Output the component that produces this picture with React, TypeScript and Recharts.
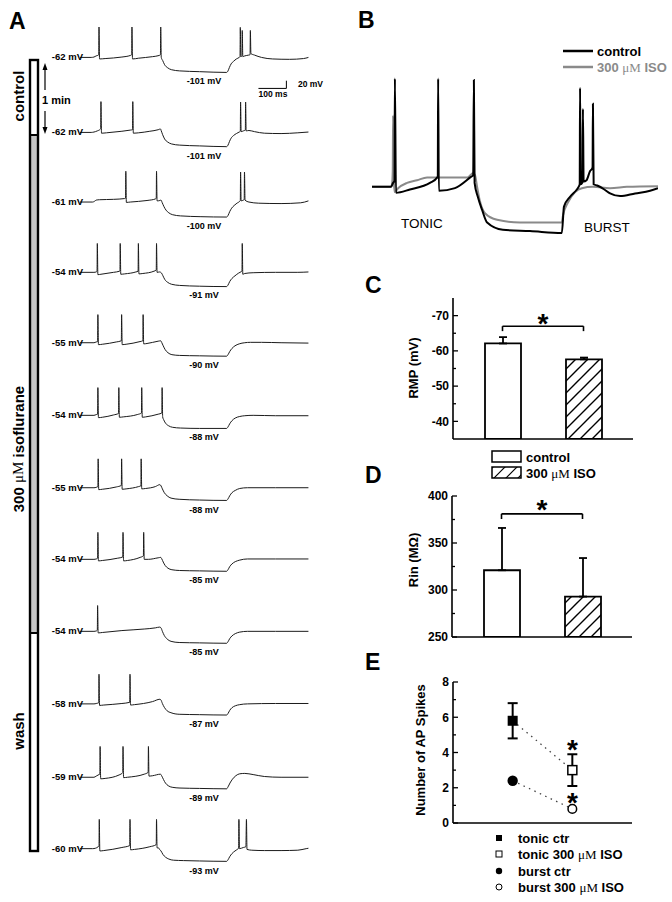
import React from 'react';
import {
  LineChart,
  Line,
  XAxis,
  YAxis,
  ReferenceLine,
  BarChart,
  Bar,
  ErrorBar,
  Cell,
  ComposedChart,
} from 'recharts';

type Pt = [number, number];

const FONT = "Arial, 'Liberation Sans', Helvetica, sans-serif";
const SERIF = "'Liberation Serif', 'Times New Roman', serif";

// ---------------- Panel A: sweeps, [time (ms), membrane potential (mV)] ----------------
const sweep1: Pt[] = [[0,-62],[40,-62],[50,-61],[58,-58],[66,-56],[67,-54],[68,17],[70,-66],[90,-65],[150,-61],[180,-57],[185,-55],[186,17],[188,-66],[210,-64],[260,-60],[283,-57],[288,-55],[289,17],[291,-62],[296,-70],[303,-81],[314,-89],[328,-94],[357,-97],[428,-99],[525,-101],[530,-97],[535,-88],[541,-79],[550,-72],[560,-66],[570,-62],[573,-60],[574,16],[576,-60],[580,-58],[581,8],[583,-60],[590,-58],[604,-56],[609,-55],[610,8],[612,-52],[625,-56],[650,-62],[690,-66],[750,-67],[800,-65],[818,-62]];
const sweep2: Pt[] = [[0,-62],[40,-62],[50,-61],[62,-58],[72,-54],[74,-52],[75,18],[77,-64],[95,-63],[150,-59],[180,-56],[188,-55],[189,18],[191,-64],[210,-63],[250,-59],[280,-55],[288,-53],[291,-58],[296,-68],[303,-79],[314,-87],[328,-92],[357,-95],[428,-97],[525,-99],[530,-95],[535,-86],[541,-77],[550,-70],[560,-65],[570,-61],[574,-59],[575,17],[577,-60],[585,-58],[592,-56],[593,17],[595,-58],[605,-57],[625,-60],[660,-64],[720,-65],[780,-63],[818,-61]];
const sweep3: Pt[] = [[0,-61],[45,-61],[52,-59],[58,-56],[70,-55],[120,-54],[160,-52],[163,-51],[164,19],[166,-62],[180,-61],[240,-57],[270,-53],[273,-51],[274,19],[276,-58],[286,-57],[290,-56],[294,-62],[300,-72],[308,-82],[318,-89],[332,-94],[360,-97],[430,-99],[525,-100],[530,-96],[536,-86],[543,-77],[552,-70],[562,-64],[572,-59],[574,-57],[575,17],[577,-58],[585,-56],[588,-55],[589,17],[591,-56],[605,-61],[640,-64],[720,-65],[790,-63],[818,-58]];
const sweep4: Pt[] = [[0,-54],[50,-54],[58,-53],[61,-51],[62,21],[64,-60],[75,-59],[120,-54],[142,-51],[143,-50],[144,21],[146,-59],[160,-58],[200,-53],[208,-51],[209,21],[211,-58],[225,-57],[265,-51],[273,-48],[274,21],[276,-54],[285,-53],[292,-56],[297,-63],[304,-73],[314,-80],[328,-85],[357,-88],[428,-90],[525,-91],[530,-87],[536,-78],[544,-70],[555,-63],[568,-56],[578,-52],[580,-51],[581,21],[583,-59],[590,-57],[620,-55],[700,-54],[780,-54],[818,-53]];
const sweep5: Pt[] = [[0,-55],[50,-55],[58,-53],[63,-52],[64,18],[66,-60],[80,-59],[130,-53],[148,-50],[149,18],[151,-60],[165,-59],[215,-52],[225,-50],[226,18],[228,-58],[240,-57],[280,-51],[289,-50],[293,-55],[298,-63],[305,-73],[315,-81],[329,-86],[357,-88],[428,-89],[525,-90],[530,-86],[536,-78],[544,-70],[555,-63],[570,-58],[590,-55],[610,-54],[650,-54],[720,-55],[818,-56]];
const sweep6: Pt[] = [[0,-54],[50,-54],[58,-52],[63,-51],[64,18],[66,-60],[80,-59],[120,-53],[138,-49],[139,18],[141,-59],[155,-58],[205,-52],[220,-48],[221,18],[223,-59],[235,-58],[280,-51],[293,-48],[294,18],[296,-58],[300,-66],[307,-75],[317,-81],[331,-85],[360,-87],[428,-88],[525,-88],[530,-84],[536,-76],[544,-68],[556,-61],[572,-57],[590,-55],[620,-54],[700,-55],[818,-55]];
const sweep7: Pt[] = [[0,-55],[50,-55],[58,-54],[64,-52],[65,20],[67,-60],[80,-59],[130,-53],[148,-49],[149,20],[151,-59],[165,-58],[210,-52],[218,-50],[219,20],[221,-58],[235,-57],[270,-52],[286,-47],[290,-50],[295,-58],[302,-68],[312,-76],[326,-82],[355,-85],[428,-87],[525,-88],[530,-84],[536,-76],[544,-68],[556,-62],[572,-57],[600,-55],[700,-55],[818,-55]];
const sweep8: Pt[] = [[0,-54],[50,-54],[58,-53],[63,-51],[64,16],[66,-58],[80,-57],[135,-51],[153,-48],[154,16],[156,-58],[170,-57],[215,-49],[227,-45],[228,16],[230,-54],[245,-54],[280,-50],[289,-49],[293,-53],[298,-61],[305,-70],[315,-77],[329,-81],[357,-83],[428,-84],[525,-85],[530,-81],[536,-73],[544,-66],[556,-60],[572,-56],[600,-53],[700,-53],[818,-53]];
const sweep9: Pt[] = [[0,-54],[50,-54],[58,-53],[62,-51],[63,13],[65,-58],[80,-57],[150,-52],[230,-48],[270,-45],[285,-43],[290,-45],[295,-54],[302,-65],[312,-74],[326,-80],[355,-83],[428,-84],[525,-85],[530,-81],[536,-73],[544,-66],[556,-60],[572,-56],[600,-54],[700,-54],[818,-54]];
const sweep10: Pt[] = [[0,-58],[50,-58],[58,-57],[67,-55],[68,19],[70,-62],[85,-61],[150,-57],[178,-54],[179,19],[181,-61],[195,-60],[260,-52],[286,-46],[290,-48],[295,-57],[302,-67],[312,-76],[326,-81],[355,-85],[428,-86],[525,-87],[530,-83],[536,-75],[544,-68],[556,-63],[572,-60],[600,-58],[700,-57],[818,-57]];
const sweep11: Pt[] = [[0,-59],[50,-59],[58,-56],[68,-52],[71,-51],[72,21],[74,-63],[90,-62],[140,-53],[153,-47],[154,21],[156,-60],[170,-59],[230,-51],[244,-46],[245,21],[247,-56],[260,-55],[288,-51],[293,-56],[299,-65],[306,-74],[316,-81],[330,-85],[358,-87],[428,-88],[525,-89],[530,-84],[537,-74],[546,-64],[558,-55],[572,-50],[590,-49],[620,-52],[660,-57],[720,-59],[818,-59]];
const sweep12: Pt[] = [[0,-60],[45,-60],[55,-59],[65,-55],[68,-53],[69,16],[71,-66],[85,-65],[150,-57],[178,-52],[179,16],[181,-63],[195,-62],[250,-55],[272,-50],[273,-48],[274,16],[276,-58],[281,-58],[285,-62],[290,-66],[297,-75],[306,-82],[318,-87],[335,-90],[370,-91],[428,-92],[525,-93],[530,-89],[536,-81],[544,-73],[555,-66],[565,-61],[568,-59],[569,16],[571,-60],[585,-57],[594,-55],[596,16],[598,-62],[615,-64],[660,-65],[720,-65],[780,-64],[810,-60],[818,-59]];

const sweeps: Pt[][] = [sweep1, sweep2, sweep3, sweep4, sweep5, sweep6, sweep7, sweep8, sweep9, sweep10, sweep11, sweep12];
const hyperValues = [-101, -101, -100, -91, -90, -88, -88, -85, -85, -87, -89, -93];

// ---------------- Panel B: overlay, [time (ms), mV] ----------------
const bControl: Pt[] = [[0,-62],[53,-62],[59,-59],[63,-57.5],[64,20],[67,-66.5],[106,-64],[162,-59],[182,-55],[184,-54],[185,20],[187,-65],[232,-63],[274,-55],[283,-53],[285,19],[287,-59],[296,-69.5],[308,-79.5],[322,-89],[366,-94.5],[442,-95.5],[531,-97],[537,-77],[554,-69.5],[573,-64],[578,-62],[581,-60],[582,13],[584,-60],[588,-59],[589,-58],[590,-3],[592,-58],[600,-57],[610,-50],[616,-48],[617,-47],[618,1],[620,-60],[630,-61],[650,-64],[666,-67],[694,-69],[736,-67],[778,-65],[800,-63]];
const bIso: Pt[] = [[0,-62],[53,-62],[56,-60],[58,-50],[59,-8],[61,-55],[63,-66],[73,-63],[98,-59],[126,-57],[154,-55],[266,-55],[283,-51.5],[288,-53],[294,-62],[302,-73],[316,-82],[350,-87],[414,-89],[531,-89],[534,-84],[548,-74],[568,-66],[587,-63],[618,-62],[666,-63],[713,-62],[800,-61.5]];

// ---------------- Panels C, D: bars ----------------
const barGroups = ['control', '300 \u00B5M ISO'];
const rmpMean = [-62.1, -57.6];
const rmpSem = [1.8, 0.5];
const rinMean = [321, 293];
const rinErr = [45, 41];

// ---------------- Panel E: spike counts ----------------
const spikeGroupX = [1, 2];
const tonicMean = [5.8, 3.0];
const tonicErr = [1.0, 0.9];
const burstMean = [2.4, 0.8];

// ---------------- layout ----------------
const A_ROW_BASE_PX = [57, 132, 202, 272, 343, 415, 488, 559, 631, 704, 777, 849];
const A_PX_PER_MV = 0.385;
const A_DOMAIN: [number, number] = [-150, 30];
const A_LEFT = 80;
const A_WIDTH = 229;

const B_PX_PER_MV = 1.32;
const B_DOMAIN: [number, number] = [-105, 25];

const toRows = (d: Pt[]) => d.map(([t, v]) => ({ t, v }));

function SweepRow({ data, basePx, scaleBar }: { data: Pt[]; basePx: number; scaleBar?: boolean }) {
  const rest = data[0][1];
  const top = basePx - (A_DOMAIN[1] - rest) * A_PX_PER_MV;
  const height = (A_DOMAIN[1] - A_DOMAIN[0]) * A_PX_PER_MV;
  return (
    <div style={{ position: 'absolute', left: A_LEFT, top, width: A_WIDTH, height }}>
      <LineChart width={A_WIDTH} height={height} data={toRows(data)} margin={{ top: 0, right: 0, bottom: 0, left: 0 }}>
        <XAxis dataKey="t" type="number" domain={[0, 820]} hide allowDataOverflow />
        <YAxis type="number" domain={A_DOMAIN} hide allowDataOverflow />
        <Line type="monotone" dataKey="v" stroke="#1a1a1a" strokeWidth={1} dot={false} isAnimationActive={false} />
        {scaleBar && (
          <ReferenceLine segment={[{ x: 639, y: -142.5 }, { x: 739, y: -142.5 }]} stroke="#000" strokeWidth={1} ifOverflow="visible" />
        )}
        {scaleBar && (
          <ReferenceLine segment={[{ x: 739, y: -142.5 }, { x: 739, y: -122.5 }]} stroke="#000" strokeWidth={1} ifOverflow="visible" />
        )}
      </LineChart>
    </div>
  );
}

const makeTick = (majors: number[]) => (props: any) => {
  const { x, y, payload } = props;
  const v = payload.value;
  const major = majors.includes(v);
  return (
    <g>
      <line x1={x} x2={x + (major ? 5 : 3)} y1={y} y2={y} stroke="#000" strokeWidth={1.3} />
      {major && (
        <text x={x - 4} y={y + 4.3} textAnchor="end" fontSize={12} fontWeight="bold" fontFamily={FONT} fill="#000">
          {v}
        </text>
      )}
    </g>
  );
};

const STAR_SIZE = 28;

const bracketStar = (dyBase: number) => (props: any) => {
  const vb = props.viewBox || {};
  const x = (vb.x || 0) + (vb.width || 0) / 2;
  const y = (vb.y || 0) + dyBase;
  return (
    <text x={x} y={y} textAnchor="middle" fontSize={STAR_SIZE} fontWeight="bold" fontFamily={FONT} fill="#000">
      *
    </text>
  );
};

const pointStar = (offset: number, only: number) => (props: any) => {
  if (props.index !== only) return null;
  const x = props.x ?? props.viewBox?.x;
  const y = props.y ?? props.viewBox?.y;
  return (
    <text x={x} y={y - offset} textAnchor="middle" fontSize={STAR_SIZE} fontWeight="bold" fontFamily={FONT} fill="#000">
      *
    </text>
  );
};

const hatch = (id: string) => (
  <defs>
    <pattern id={id} patternUnits="userSpaceOnUse" width={12} height={12}>
      <path d="M0,12 L12,0 M-2,2 L2,-2 M10,14 L14,10" stroke="#000" strokeWidth={1.4} />
    </pattern>
  </defs>
);

const axisLine = { stroke: '#000', strokeWidth: 1.6 };

const tonicDot = (p: any) => {
  const { cx, cy, index } = p;
  if (index === 0) return <rect key={`td${index}`} x={cx - 5} y={cy - 5} width={10} height={10} fill="#000" />;
  return <rect key={`td${index}`} x={cx - 4.5} y={cy - 4.5} width={9} height={9} fill="#fff" stroke="#000" strokeWidth={1.5} />;
};
const burstDot = (p: any) => {
  const { cx, cy, index } = p;
  if (index === 0) return <circle key={`bd${index}`} cx={cx} cy={cy} r={5.2} fill="#000" />;
  return <circle key={`bd${index}`} cx={cx} cy={cy} r={4.3} fill="#fff" stroke="#000" strokeWidth={1.5} />;
};

function Mu() {
  return <tspan fontFamily={SERIF} fontWeight="normal">{'\u03BC'}M</tspan>;
}

export default function App() {
  const rmpRows = barGroups.map((g, i) => ({ g, v: rmpMean[i], e: [rmpSem[i], 0] }));
  const rinRows = barGroups.map((g, i) => ({ g, v: rinMean[i], e: [0, rinErr[i]] }));
  const spikeRows = spikeGroupX.map((x, i) => ({ x, tonic: tonicMean[i], tErr: tonicErr[i], burst: burstMean[i] }));

  const bTop = 187 - (B_DOMAIN[1] - bControl[0][1]) * B_PX_PER_MV;
  const bHeight = (B_DOMAIN[1] - B_DOMAIN[0]) * B_PX_PER_MV;

  const txt = { fontFamily: FONT, fontWeight: 'bold' as const, fill: '#000' };

  return (
    <div style={{ position: 'relative', width: 672, height: 902, background: '#fff', overflow: 'hidden', fontFamily: FONT }}>
      <style>{`body{margin:0;} .recharts-surface{overflow:visible;}`}</style>

      {/* Panel A sweeps */}
      {sweeps.map((s, i) => (
        <SweepRow key={i} data={s} basePx={A_ROW_BASE_PX[i]} scaleBar={i === 0} />
      ))}

      {/* Panel B */}
      <div style={{ position: 'absolute', left: 372, top: bTop }}>
        <LineChart width={286} height={bHeight} margin={{ top: 0, right: 0, bottom: 0, left: 0 }}>
          <XAxis dataKey="t" type="number" domain={[0, 800]} hide allowDataOverflow />
          <YAxis type="number" domain={B_DOMAIN} hide allowDataOverflow />
          <Line data={toRows(bIso)} type="monotone" dataKey="v" stroke="#8a8a8a" strokeWidth={2} dot={false} isAnimationActive={false} />
          <Line data={toRows(bControl)} type="monotone" dataKey="v" stroke="#000" strokeWidth={2} dot={false} isAnimationActive={false} />
        </LineChart>
      </div>

      {/* Panel C */}
      <div style={{ position: 'absolute', left: 393, top: 290 }}>
        <BarChart width={240} height={150} data={rmpRows} margin={{ top: 8, right: 0, bottom: 0, left: 0 }}>
          {hatch('hatchC')}
          <XAxis dataKey="g" type="category" tick={false} tickLine={false} height={1} axisLine={axisLine} padding={{ left: 9, right: 9 }} />
          <YAxis type="number" domain={[-75, -35]} reversed ticks={[-70, -65, -60, -55, -50, -45, -40]} interval={0} width={60} tickSize={0} tickMargin={0} tickLine={false} axisLine={axisLine} tick={makeTick([-70, -60, -50, -40])} allowDataOverflow />
          <Bar dataKey="v" barSize={36} stroke="#000" strokeWidth={1.8} isAnimationActive={false}>
            <Cell fill="#fff" />
            <Cell fill="url(#hatchC)" />
            <ErrorBar dataKey="e" width={4} strokeWidth={1.8} stroke="#000" direction="y" />
          </Bar>
          <ReferenceLine segment={[{ x: barGroups[0], y: -67 }, { x: barGroups[1], y: -67 }]} stroke="#000" strokeWidth={1.6} label={bracketStar(7)} />
          <ReferenceLine segment={[{ x: barGroups[0], y: -67 }, { x: barGroups[0], y: -65.6 }]} stroke="#000" strokeWidth={1.6} />
          <ReferenceLine segment={[{ x: barGroups[1], y: -67 }, { x: barGroups[1], y: -65.6 }]} stroke="#000" strokeWidth={1.6} />
        </BarChart>
      </div>

      {/* Panel D */}
      <div style={{ position: 'absolute', left: 392, top: 488 }}>
        <BarChart width={240} height={150} data={rinRows} margin={{ top: 8, right: 0, bottom: 0, left: 0 }}>
          {hatch('hatchD')}
          <XAxis dataKey="g" type="category" tick={false} tickLine={false} height={1} axisLine={axisLine} padding={{ left: 9, right: 9 }} />
          <YAxis type="number" domain={[250, 400]} ticks={[250, 275, 300, 325, 350, 375, 400]} interval={0} width={60} tickSize={0} tickMargin={0} tickLine={false} axisLine={axisLine} tick={makeTick([250, 300, 350, 400])} allowDataOverflow />
          <Bar dataKey="v" barSize={36} stroke="#000" strokeWidth={1.8} isAnimationActive={false}>
            <Cell fill="#fff" />
            <Cell fill="url(#hatchD)" />
            <ErrorBar dataKey="e" width={4} strokeWidth={1.8} stroke="#000" direction="y" />
          </Bar>
          <ReferenceLine segment={[{ x: barGroups[0], y: 381 }, { x: barGroups[1], y: 381 }]} stroke="#000" strokeWidth={1.6} label={bracketStar(5)} />
          <ReferenceLine segment={[{ x: barGroups[0], y: 381 }, { x: barGroups[0], y: 375.5 }]} stroke="#000" strokeWidth={1.6} />
          <ReferenceLine segment={[{ x: barGroups[1], y: 381 }, { x: barGroups[1], y: 375.5 }]} stroke="#000" strokeWidth={1.6} />
        </BarChart>
      </div>

      {/* Panel E */}
      <div style={{ position: 'absolute', left: 393, top: 674 }}>
        <ComposedChart width={239} height={150} data={spikeRows} margin={{ top: 8, right: 0, bottom: 0, left: 0 }}>
          <XAxis dataKey="x" type="number" domain={[0, 3]} tick={false} tickLine={false} height={1} axisLine={axisLine} />
          <YAxis type="number" domain={[0, 8]} ticks={[0, 1, 2, 3, 4, 5, 6, 7, 8]} interval={0} width={60} tickSize={0} tickMargin={0} tickLine={false} axisLine={axisLine} tick={makeTick([0, 2, 4, 6, 8])} allowDataOverflow />
          <Line dataKey="tonic" name="tonic-err" stroke="transparent" dot={false} isAnimationActive={false}>
            <ErrorBar dataKey="tErr" width={5} strokeWidth={2} stroke="#000" direction="y" />
          </Line>
          <Line dataKey="tonic" name="tonic" type="linear" stroke="#444" strokeWidth={1.3} strokeDasharray="1.5 4.5" dot={tonicDot} label={pointStar(11, 1)} isAnimationActive={false} />
          <Line dataKey="burst" name="burst" type="linear" stroke="#444" strokeWidth={1.3} strokeDasharray="1.5 4.5" dot={burstDot} label={pointStar(-3, 1)} isAnimationActive={false} />
        </ComposedChart>
      </div>

      {/* Annotations */}
      <svg width={672} height={902} style={{ position: 'absolute', left: 0, top: 0, pointerEvents: 'none' }}>
        <defs>
          <pattern id="hatchL" patternUnits="userSpaceOnUse" width={12} height={12}>
            <path d="M0,12 L12,0 M-2,2 L2,-2 M10,14 L14,10" stroke="#000" strokeWidth={1.2} />
          </pattern>
        </defs>

        {/* panel letters */}
        <text x={9} y={29} fontSize={23} {...txt}>A</text>
        <text x={358} y={28} fontSize={23} {...txt}>B</text>
        <text x={365} y={293} fontSize={23} {...txt}>C</text>
        <text x={365} y={483} fontSize={23} {...txt}>D</text>
        <text x={365} y={670} fontSize={23} {...txt}>E</text>

        {/* Panel A: condition bar */}
        <rect x={30} y={60} width={8} height={75} fill="#fff" />
        <rect x={30} y={135} width={8} height={498} fill="#c4c4c4" />
        <rect x={30} y={633} width={8} height={218} fill="#fff" />
        <rect x={30} y={60} width={8} height={791} fill="none" stroke="#000" strokeWidth={2.4} />
        <line x1={30} x2={38} y1={135} y2={135} stroke="#000" strokeWidth={2} />
        <line x1={30} x2={38} y1={633} y2={633} stroke="#000" strokeWidth={2} />

        <text transform="rotate(-90 18 96)" x={18} y={96} textAnchor="middle" dominantBaseline="central" fontSize={15} {...txt}>control</text>
        <text transform="rotate(-90 18 449)" x={18} y={449} textAnchor="middle" dominantBaseline="central" fontSize={15} {...txt}>300 <Mu /> isoflurane</text>
        <text transform="rotate(-90 18 731)" x={18} y={731} textAnchor="middle" dominantBaseline="central" fontSize={15} {...txt}>wash</text>

        {/* 1 min arrows */}
        <line x1={45} x2={45} y1={69} y2={90} stroke="#000" strokeWidth={1.2} />
        <path d="M42.5,70 L45,63 L47.5,70 Z" fill="#000" />
        <line x1={45} x2={45} y1={111} y2={128} stroke="#000" strokeWidth={1.2} />
        <path d="M42.5,127 L45,134 L47.5,127 Z" fill="#000" />
        <text x={42} y={104} fontSize={11} {...txt}>1 min</text>

        {/* scale bar labels */}
        <text x={273} y={97} textAnchor="middle" fontSize={8.5} {...txt}>100 ms</text>
        <text x={298} y={87} fontSize={8.5} {...txt}>20 mV</text>

        {/* sweep labels */}
        {sweeps.map((s, i) => {
          const base = A_ROW_BASE_PX[i];
          const rest = s[0][1];
          const hyper = hyperValues[i];
          return (
            <g key={`lab${i}`}>
              <text x={83} y={base + 3.3} textAnchor="end" fontSize={9.5} {...txt}>{`${rest} mV`}</text>
              <text x={204} y={base + (rest - hyper) * A_PX_PER_MV + 12} textAnchor="middle" fontSize={9} {...txt}>{`${hyper} mV`}</text>
            </g>
          );
        })}

        {/* Panel B legend and labels */}
        <line x1={563} x2={593} y1={51} y2={51} stroke="#000" strokeWidth={2.5} />
        <text x={597} y={56} fontSize={13} {...txt}>control</text>
        <line x1={563} x2={593} y1={67} y2={67} stroke="#8a8a8a" strokeWidth={2.5} />
        <text x={597} y={72} fontSize={13} fontFamily={FONT} fontWeight="bold" fill="#8a8a8a">300 <Mu /> ISO</text>
        <text x={422} y={228} textAnchor="middle" fontSize={13.5} fontFamily={FONT} fill="#000">TONIC</text>
        <text x={607} y={232} textAnchor="middle" fontSize={13.5} fontFamily={FONT} fill="#000">BURST</text>

        {/* axis titles */}
        <text transform="rotate(-90 413 368)" x={413} y={368} textAnchor="middle" dominantBaseline="central" fontSize={13} {...txt}>RMP (mV)</text>
        <text transform="rotate(-90 413 560)" x={413} y={560} textAnchor="middle" dominantBaseline="central" fontSize={13} {...txt}>Rin (M{'\u03A9'})</text>
        <text transform="rotate(-90 420 750)" x={420} y={750} textAnchor="middle" dominantBaseline="central" fontSize={13} {...txt}>Number of AP Spikes</text>

        {/* C legend */}
        <rect x={492} y={451} width={29} height={11} fill="#fff" stroke="#000" strokeWidth={1.5} />
        <text x={526} y={461.5} fontSize={13} {...txt}>control</text>
        <rect x={492} y={467} width={29} height={11} fill="url(#hatchL)" stroke="#000" strokeWidth={1.5} />
        <text x={526} y={477.5} fontSize={13} {...txt}>300 <Mu /> ISO</text>

        {/* E legend */}
        <rect x={496} y={835} width={6} height={6} fill="#000" />
        <text x={518} y={843} fontSize={13} {...txt}>tonic ctr</text>
        <rect x={496} y={851} width={6} height={6} fill="#fff" stroke="#000" strokeWidth={1} />
        <text x={518} y={859} fontSize={13} {...txt}>tonic 300 <Mu /> ISO</text>
        <circle cx={499} cy={871} r={3.2} fill="#000" />
        <text x={518} y={876} fontSize={13} {...txt}>burst ctr</text>
        <circle cx={499} cy={887} r={3} fill="#fff" stroke="#000" strokeWidth={1} />
        <text x={518} y={892} fontSize={13} {...txt}>burst 300 <Mu /> ISO</text>
      </svg>
    </div>
  );
}
